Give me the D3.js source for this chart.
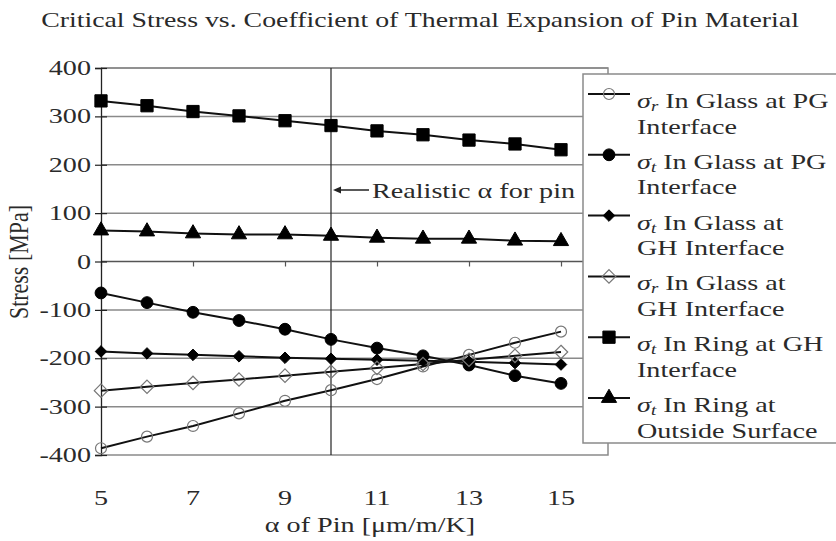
<!DOCTYPE html>
<html>
<head>
<meta charset="utf-8">
<script src="https://cdn.jsdelivr.net/npm/d3@7"></script>
<style>
  body { margin: 0; background: #fff; }
  text { font-family: "Liberation Serif", "Times New Roman", serif; fill: #2a2a2a; }
</style>
</head>
<body>
<svg id="chart"></svg>
<script>
const alphaPin = [5, 6, 7, 8, 9, 10, 11, 12, 13, 14, 15]

const srGlassPG = [-386, -362, -340, -314, -288, -266, -243, -217, -193, -168, -145]
const stGlassPG = [-65, -85, -105, -122, -140, -161, -179, -195, -214, -236, -252]
const stGlassGH = [-186, -190, -193, -196, -199, -201, -203, -205, -207, -210, -213]
const srGlassGH = [-267, -259, -251, -244, -236, -228, -220, -212, -203, -195, -187]
const stRingGH = [332, 322, 310, 301, 291, 281, 270, 262, 251, 243, 231]
const stRingOut = [64, 62, 58, 56, 56, 53, 49, 47, 47, 43, 42]

const yTicks = [-400, -300, -200, -100, 0, 100, 200, 300, 400]
const xTicks = [5, 7, 9, 11, 13, 15]

const svgWidth = 836
const svgHeight = 541
const sx = 1.28   // the picture is stretched sideways

const svg = d3.select('#chart')
  .attr('width', svgWidth)
  .attr('height', svgHeight)

const xScale = d3.scaleLinear().domain([5, 15]).range([101, 561])
const yScale = d3.scaleLinear().domain([-400, 400]).range([455, 68])
const plotRight = 608

const stretchText = (g, x, y, str, anchor, k) => {
  return g.append('text')
    .attr('transform', `translate(${x},${y}) scale(${k || sx},1)`)
    .attr('text-anchor', anchor || 'start')
    .text(str)
}

// title
stretchText(svg, 420, 27, 'Critical Stress vs. Coefficient of Thermal Expansion of Pin Material', 'middle', 1.265)
  .style('font-size', '22px')

// grid lines
svg.append('g').selectAll('line')
  .data(yTicks.filter(d => d !== 0 && d !== -400))
  .enter().append('line')
  .attr('x1', xScale(5)).attr('x2', plotRight)
  .attr('y1', d => yScale(d)).attr('y2', d => yScale(d))
  .attr('stroke', '#8a8a8a').attr('stroke-width', 1.5)

// plot frame
svg.append('path')
  .attr('d', `M${xScale(5)},${yScale(-400)}H${plotRight}V${yScale(400)}H${xScale(5)}`)
  .attr('fill', 'none').attr('stroke', '#8a8a8a').attr('stroke-width', 1.5)

// realistic alpha line
svg.append('line')
  .attr('x1', xScale(10)).attr('x2', xScale(10))
  .attr('y1', yScale(400)).attr('y2', yScale(-400))
  .attr('stroke', '#222').attr('stroke-width', 1.2)

// x axis on the zero line
const xAxis = d3.axisBottom(xScale).tickValues(xTicks).tickSize(5).tickFormat('')
svg.append('g')
  .attr('transform', `translate(0,${yScale(0)})`)
  .call(xAxis)
  .call(g => g.select('.domain').attr('d', `M${xScale(5)},0H${plotRight}`).attr('stroke', '#555').attr('stroke-width', 1.5))
  .call(g => g.selectAll('.tick line').attr('stroke', '#555').attr('stroke-width', 1.2))

xTicks.forEach(t => {
  stretchText(svg, xScale(t), 505, t, 'middle').style('font-size', '22px')
})

// y axis
const yAxis = d3.axisLeft(yScale).tickValues(yTicks).tickSize(6).tickFormat('')
svg.append('g')
  .attr('transform', `translate(${xScale(5)},0)`)
  .call(yAxis)
  .call(g => g.select('.domain').attr('stroke', '#222').attr('stroke-width', 1.3))
  .call(g => g.selectAll('.tick line').attr('x2', 6).attr('x1', -6).attr('stroke', '#222').attr('stroke-width', 1.2))

yTicks.forEach(t => {
  stretchText(svg, 91, yScale(t) + 7, t, 'end').style('font-size', '22px')
})

// axis titles
stretchText(svg, 370, 532, 'α of Pin [μm/m/K]', 'middle').style('font-size', '22px')
svg.append('text')
  .attr('transform', `translate(28,262) scale(${sx},1) rotate(-90)`)
  .attr('text-anchor', 'middle')
  .style('font-size', '22px')
  .text('Stress [MPa]')

// series
const series = [
  { sub: 'r', lines: ['In Glass at PG', 'Interface'], values: srGlassPG, shape: d3.symbolCircle, size: 95, fill: 'none', stroke: '#777' },
  { sub: 't', lines: ['In Glass at PG', 'Interface'], values: stGlassPG, shape: d3.symbolCircle, size: 110, fill: '#000', stroke: '#000' },
  { sub: 't', lines: ['In Glass at', 'GH Interface'], values: stGlassGH, shape: d3.symbolDiamond2, size: 85, fill: '#000', stroke: '#000' },
  { sub: 'r', lines: ['In Glass at', 'GH Interface'], values: srGlassGH, shape: d3.symbolDiamond2, size: 115, fill: 'none', stroke: '#777' },
  { sub: 't', lines: ['In Ring at GH', 'Interface'], values: stRingGH, shape: d3.symbolSquare, size: 150, fill: '#000', stroke: '#000' },
  { sub: 't', lines: ['In Ring at', 'Outside Surface'], values: stRingOut, shape: d3.symbolTriangle, size: 100, fill: '#000', stroke: '#000' }
]

const line = d3.line()
  .x((d, i) => xScale(alphaPin[i]))
  .y(d => yScale(d))

series.forEach(s => {
  svg.append('path')
    .datum(s.values)
    .attr('d', line)
    .attr('fill', 'none')
    .attr('stroke', '#111')
    .attr('stroke-width', 2)
})

series.forEach(s => {
  svg.append('g').selectAll('path')
    .data(s.values)
    .enter().append('path')
    .attr('transform', (d, i) => `translate(${xScale(alphaPin[i])},${yScale(d)})`)
    .attr('d', d3.symbol().type(s.shape).size(s.size))
    .attr('fill', s.fill)
    .attr('stroke', s.stroke)
    .attr('stroke-width', s.fill === 'none' ? 1.2 : 1)
})

// annotation
svg.append('line')
  .attr('x1', 337).attr('x2', 369)
  .attr('y1', 190).attr('y2', 190)
  .attr('stroke', '#222').attr('stroke-width', 1.5)
svg.append('path')
  .attr('d', 'M333,190L341,186.5L341,193.5Z')
  .attr('fill', '#222')
stretchText(svg, 372, 198, 'Realistic α for pin').style('font-size', '22px')

// legend
const legend = svg.append('g')
legend.append('rect')
  .attr('x', 583).attr('y', 74)
  .attr('width', 270).attr('height', 369)
  .attr('fill', '#fff')
  .attr('stroke', '#8a8a8a').attr('stroke-width', 1.5)

const lk = 1.34
series.forEach((s, i) => {
  const ly = 94 + i * 60.8
  legend.append('line')
    .attr('x1', 588).attr('x2', 630)
    .attr('y1', ly).attr('y2', ly)
    .attr('stroke', '#111').attr('stroke-width', 2)
  legend.append('path')
    .attr('transform', `translate(609,${ly})`)
    .attr('d', d3.symbol().type(s.shape).size(s.size))
    .attr('fill', s.fill)
    .attr('stroke', s.stroke)
    .attr('stroke-width', s.fill === 'none' ? 1.2 : 1)

  const t1 = legend.append('text')
    .attr('transform', `translate(637,${ly + 14}) scale(${lk},1)`)
    .style('font-size', '21px')
  t1.append('tspan').style('font-style', 'italic').text('σ')
  t1.append('tspan').style('font-style', 'italic').style('font-size', '14px').attr('dy', 3).text(s.sub)
  t1.append('tspan').attr('dy', -3).text(' ' + s.lines[0])

  stretchText(legend, 637, ly + 39.5, s.lines[1], 'start', lk).style('font-size', '21px')
})
</script>
</body>
</html>
